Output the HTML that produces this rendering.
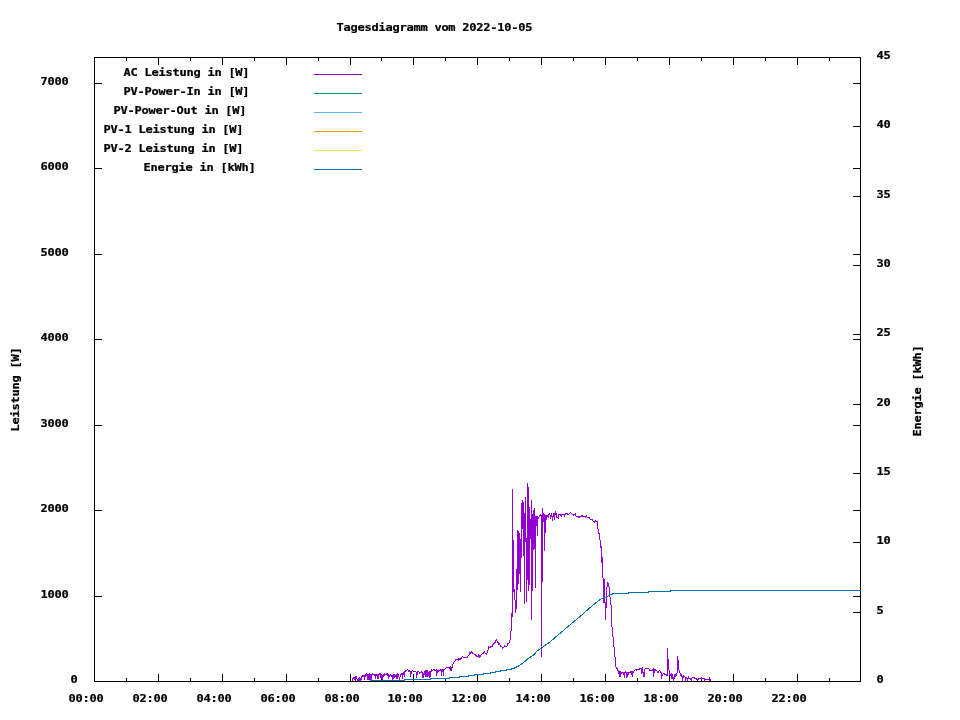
<!DOCTYPE html>
<html lang="de"><head><meta charset="utf-8"><title>Tagesdiagramm vom 2022-10-05</title>
<style>html,body{margin:0;padding:0;background:#fff;width:960px;height:720px;overflow:hidden}svg{display:block}text{font-family:'DejaVu Sans Mono','Liberation Mono',monospace;font-weight:bold;font-size:12px;letter-spacing:-0.2246px;stroke:#000;stroke-width:0.25px;fill:#000;white-space:pre}</style></head><body>
<svg width="960" height="720" viewBox="0 0 960 720">
<rect width="960" height="720" fill="#fff"/>
<g fill="#000" shape-rendering="crispEdges">
<rect x="94" y="57" width="767" height="1"/>
<rect x="94" y="681" width="767" height="1"/>
<rect x="94" y="57" width="1" height="625"/>
<rect x="860" y="57" width="1" height="625"/>
<rect x="94" y="674" width="1" height="8"/>
<rect x="94" y="57" width="1" height="8"/>
<rect x="126" y="678" width="1" height="4"/>
<rect x="126" y="57" width="1" height="4"/>
<rect x="158" y="674" width="1" height="8"/>
<rect x="158" y="57" width="1" height="8"/>
<rect x="190" y="678" width="1" height="4"/>
<rect x="190" y="57" width="1" height="4"/>
<rect x="222" y="674" width="1" height="8"/>
<rect x="222" y="57" width="1" height="8"/>
<rect x="254" y="678" width="1" height="4"/>
<rect x="254" y="57" width="1" height="4"/>
<rect x="286" y="674" width="1" height="8"/>
<rect x="286" y="57" width="1" height="8"/>
<rect x="318" y="678" width="1" height="4"/>
<rect x="318" y="57" width="1" height="4"/>
<rect x="350" y="674" width="1" height="8"/>
<rect x="350" y="57" width="1" height="8"/>
<rect x="381" y="678" width="1" height="4"/>
<rect x="381" y="57" width="1" height="4"/>
<rect x="413" y="674" width="1" height="8"/>
<rect x="413" y="57" width="1" height="8"/>
<rect x="445" y="678" width="1" height="4"/>
<rect x="445" y="57" width="1" height="4"/>
<rect x="477" y="674" width="1" height="8"/>
<rect x="477" y="57" width="1" height="8"/>
<rect x="509" y="678" width="1" height="4"/>
<rect x="509" y="57" width="1" height="4"/>
<rect x="541" y="674" width="1" height="8"/>
<rect x="541" y="57" width="1" height="8"/>
<rect x="573" y="678" width="1" height="4"/>
<rect x="573" y="57" width="1" height="4"/>
<rect x="605" y="674" width="1" height="8"/>
<rect x="605" y="57" width="1" height="8"/>
<rect x="637" y="678" width="1" height="4"/>
<rect x="637" y="57" width="1" height="4"/>
<rect x="669" y="674" width="1" height="8"/>
<rect x="669" y="57" width="1" height="8"/>
<rect x="701" y="678" width="1" height="4"/>
<rect x="701" y="57" width="1" height="4"/>
<rect x="733" y="674" width="1" height="8"/>
<rect x="733" y="57" width="1" height="8"/>
<rect x="765" y="678" width="1" height="4"/>
<rect x="765" y="57" width="1" height="4"/>
<rect x="797" y="674" width="1" height="8"/>
<rect x="797" y="57" width="1" height="8"/>
<rect x="829" y="678" width="1" height="4"/>
<rect x="829" y="57" width="1" height="4"/>
<rect x="94" y="681" width="8" height="1"/>
<rect x="853" y="681" width="8" height="1"/>
<rect x="94" y="596" width="8" height="1"/>
<rect x="853" y="596" width="8" height="1"/>
<rect x="94" y="510" width="8" height="1"/>
<rect x="853" y="510" width="8" height="1"/>
<rect x="94" y="425" width="8" height="1"/>
<rect x="853" y="425" width="8" height="1"/>
<rect x="94" y="339" width="8" height="1"/>
<rect x="853" y="339" width="8" height="1"/>
<rect x="94" y="254" width="8" height="1"/>
<rect x="853" y="254" width="8" height="1"/>
<rect x="94" y="168" width="8" height="1"/>
<rect x="853" y="168" width="8" height="1"/>
<rect x="94" y="83" width="8" height="1"/>
<rect x="853" y="83" width="8" height="1"/>
<rect x="853" y="681" width="8" height="1"/>
<rect x="853" y="612" width="8" height="1"/>
<rect x="853" y="542" width="8" height="1"/>
<rect x="853" y="473" width="8" height="1"/>
<rect x="853" y="404" width="8" height="1"/>
<rect x="853" y="334" width="8" height="1"/>
<rect x="853" y="265" width="8" height="1"/>
<rect x="853" y="196" width="8" height="1"/>
<rect x="853" y="126" width="8" height="1"/>
<rect x="853" y="57" width="8" height="1"/>
</g>
<g>
<text transform="translate(336.5,31) scale(1,0.917)">Tagesdiagramm vom 2022-10-05</text>
<text transform="translate(70.5,683) scale(1,0.917)">0</text>
<text transform="translate(40.5,598) scale(1,0.917)">1000</text>
<text transform="translate(40.5,512) scale(1,0.917)">2000</text>
<text transform="translate(40.5,427) scale(1,0.917)">3000</text>
<text transform="translate(40.5,341) scale(1,0.917)">4000</text>
<text transform="translate(40.5,256) scale(1,0.917)">5000</text>
<text transform="translate(40.5,170) scale(1,0.917)">6000</text>
<text transform="translate(40.5,85) scale(1,0.917)">7000</text>
<text transform="translate(876.5,683) scale(1,0.917)">0</text>
<text transform="translate(876.5,614) scale(1,0.917)">5</text>
<text transform="translate(876.5,544) scale(1,0.917)">10</text>
<text transform="translate(876.5,475) scale(1,0.917)">15</text>
<text transform="translate(876.5,406) scale(1,0.917)">20</text>
<text transform="translate(876.5,336) scale(1,0.917)">25</text>
<text transform="translate(876.5,267) scale(1,0.917)">30</text>
<text transform="translate(876.5,198) scale(1,0.917)">35</text>
<text transform="translate(876.5,128) scale(1,0.917)">40</text>
<text transform="translate(876.5,59) scale(1,0.917)">45</text>
<text transform="translate(68.5,702) scale(1,0.917)">00:00</text>
<text transform="translate(132.5,702) scale(1,0.917)">02:00</text>
<text transform="translate(196.5,702) scale(1,0.917)">04:00</text>
<text transform="translate(260.5,702) scale(1,0.917)">06:00</text>
<text transform="translate(324.5,702) scale(1,0.917)">08:00</text>
<text transform="translate(387.5,702) scale(1,0.917)">10:00</text>
<text transform="translate(451.5,702) scale(1,0.917)">12:00</text>
<text transform="translate(515.5,702) scale(1,0.917)">14:00</text>
<text transform="translate(579.5,702) scale(1,0.917)">16:00</text>
<text transform="translate(643.5,702) scale(1,0.917)">18:00</text>
<text transform="translate(707.5,702) scale(1,0.917)">20:00</text>
<text transform="translate(771.5,702) scale(1,0.917)">22:00</text>
<text transform="translate(123.5,76) scale(1,0.917)">AC Leistung in [W]</text>
<text transform="translate(123.5,95) scale(1,0.917)">PV-Power-In in [W]</text>
<text transform="translate(113.5,114) scale(1,0.917)">PV-Power-Out in [W]</text>
<text transform="translate(103.5,133) scale(1,0.917)">PV-1 Leistung in [W]</text>
<text transform="translate(103.5,152) scale(1,0.917)">PV-2 Leistung in [W]</text>
<text transform="translate(143.5,171) scale(1,0.917)">Energie in [kWh]</text>
<text transform="translate(19,431.5) rotate(-90) scale(1,0.917)">Leistung [W]</text>
<text transform="translate(921,436.5) rotate(-90) scale(1,0.917)">Energie [kWh]</text>
</g>
<g shape-rendering="crispEdges">
<rect x="314" y="74" width="48" height="1" fill="#9400d3"/>
<rect x="314" y="93" width="48" height="1" fill="#009e73"/>
<rect x="314" y="112" width="48" height="1" fill="#56b4e9"/>
<rect x="314" y="131" width="48" height="1" fill="#e69f00"/>
<rect x="314" y="150" width="48" height="1" fill="#f0e442"/>
<rect x="314" y="169" width="48" height="1" fill="#0072b2"/>
</g>
<g fill="#9400d3" shape-rendering="crispEdges">
<rect x="352" y="678" width="1" height="3"/>
<rect x="353" y="677" width="1" height="2"/>
<rect x="354" y="677" width="1" height="3"/>
<rect x="355" y="676" width="1" height="5"/>
<rect x="356" y="676" width="1" height="3"/>
<rect x="357" y="679" width="1" height="2"/>
<rect x="358" y="678" width="1" height="3"/>
<rect x="359" y="677" width="1" height="4"/>
<rect x="360" y="678" width="1" height="3"/>
<rect x="361" y="676" width="1" height="4"/>
<rect x="362" y="675" width="1" height="2"/>
<rect x="363" y="675" width="1" height="2"/>
<rect x="364" y="675" width="1" height="5"/>
<rect x="365" y="674" width="1" height="3"/>
<rect x="366" y="673" width="1" height="3"/>
<rect x="367" y="674" width="1" height="6"/>
<rect x="368" y="674" width="1" height="6"/>
<rect x="369" y="673" width="1" height="7"/>
<rect x="370" y="674" width="1" height="6"/>
<rect x="371" y="674" width="1" height="6"/>
<rect x="372" y="673" width="1" height="2"/>
<rect x="373" y="674" width="1" height="1"/>
<rect x="374" y="674" width="1" height="2"/>
<rect x="375" y="674" width="1" height="5"/>
<rect x="376" y="674" width="1" height="2"/>
<rect x="377" y="674" width="1" height="5"/>
<rect x="378" y="674" width="1" height="5"/>
<rect x="379" y="673" width="1" height="2"/>
<rect x="380" y="673" width="1" height="5"/>
<rect x="381" y="674" width="1" height="5"/>
<rect x="382" y="675" width="1" height="5"/>
<rect x="383" y="674" width="1" height="3"/>
<rect x="384" y="673" width="1" height="3"/>
<rect x="385" y="674" width="1" height="1"/>
<rect x="386" y="673" width="1" height="2"/>
<rect x="387" y="673" width="1" height="3"/>
<rect x="388" y="674" width="1" height="5"/>
<rect x="389" y="675" width="1" height="2"/>
<rect x="390" y="674" width="1" height="2"/>
<rect x="391" y="675" width="1" height="2"/>
<rect x="392" y="675" width="1" height="5"/>
<rect x="393" y="674" width="1" height="5"/>
<rect x="394" y="674" width="1" height="4"/>
<rect x="395" y="675" width="1" height="2"/>
<rect x="396" y="674" width="1" height="5"/>
<rect x="397" y="673" width="1" height="6"/>
<rect x="398" y="674" width="1" height="3"/>
<rect x="399" y="677" width="1" height="3"/>
<rect x="400" y="674" width="1" height="3"/>
<rect x="401" y="673" width="1" height="2"/>
<rect x="402" y="673" width="1" height="6"/>
<rect x="403" y="672" width="1" height="3"/>
<rect x="404" y="671" width="1" height="6"/>
<rect x="405" y="670" width="1" height="2"/>
<rect x="406" y="670" width="1" height="1"/>
<rect x="407" y="669" width="1" height="1"/>
<rect x="408" y="670" width="1" height="2"/>
<rect x="409" y="670" width="1" height="2"/>
<rect x="410" y="671" width="1" height="6"/>
<rect x="411" y="671" width="1" height="3"/>
<rect x="412" y="670" width="1" height="1"/>
<rect x="413" y="671" width="1" height="1"/>
<rect x="414" y="671" width="1" height="1"/>
<rect x="415" y="671" width="1" height="1"/>
<rect x="416" y="672" width="1" height="6"/>
<rect x="417" y="671" width="1" height="4"/>
<rect x="418" y="671" width="1" height="1"/>
<rect x="419" y="672" width="1" height="2"/>
<rect x="420" y="672" width="1" height="1"/>
<rect x="421" y="671" width="1" height="2"/>
<rect x="422" y="672" width="1" height="6"/>
<rect x="423" y="673" width="1" height="5"/>
<rect x="424" y="671" width="1" height="4"/>
<rect x="425" y="670" width="1" height="7"/>
<rect x="426" y="670" width="1" height="7"/>
<rect x="427" y="670" width="1" height="7"/>
<rect x="428" y="672" width="1" height="4"/>
<rect x="429" y="671" width="1" height="7"/>
<rect x="430" y="671" width="1" height="6"/>
<rect x="431" y="669" width="1" height="3"/>
<rect x="432" y="670" width="1" height="1"/>
<rect x="433" y="669" width="1" height="1"/>
<rect x="434" y="669" width="1" height="2"/>
<rect x="435" y="670" width="1" height="1"/>
<rect x="436" y="669" width="1" height="7"/>
<rect x="437" y="670" width="1" height="3"/>
<rect x="438" y="670" width="1" height="2"/>
<rect x="439" y="670" width="1" height="1"/>
<rect x="440" y="669" width="1" height="2"/>
<rect x="441" y="669" width="1" height="7"/>
<rect x="442" y="669" width="1" height="3"/>
<rect x="443" y="669" width="1" height="7"/>
<rect x="444" y="669" width="1" height="1"/>
<rect x="445" y="668" width="1" height="1"/>
<rect x="446" y="667" width="1" height="1"/>
<rect x="447" y="667" width="1" height="1"/>
<rect x="448" y="667" width="1" height="1"/>
<rect x="449" y="667" width="1" height="2"/>
<rect x="450" y="666" width="1" height="5"/>
<rect x="451" y="667" width="1" height="4"/>
<rect x="452" y="664" width="1" height="4"/>
<rect x="453" y="662" width="1" height="2"/>
<rect x="454" y="661" width="1" height="1"/>
<rect x="455" y="659" width="1" height="2"/>
<rect x="456" y="659" width="1" height="1"/>
<rect x="457" y="659" width="1" height="1"/>
<rect x="458" y="658" width="1" height="3"/>
<rect x="459" y="658" width="1" height="2"/>
<rect x="460" y="658" width="1" height="2"/>
<rect x="461" y="657" width="1" height="2"/>
<rect x="462" y="656" width="1" height="1"/>
<rect x="463" y="657" width="1" height="1"/>
<rect x="464" y="657" width="1" height="1"/>
<rect x="465" y="657" width="1" height="1"/>
<rect x="466" y="657" width="1" height="1"/>
<rect x="467" y="656" width="1" height="2"/>
<rect x="468" y="655" width="1" height="1"/>
<rect x="469" y="652" width="1" height="3"/>
<rect x="470" y="652" width="1" height="2"/>
<rect x="471" y="651" width="1" height="2"/>
<rect x="472" y="652" width="1" height="2"/>
<rect x="473" y="653" width="1" height="1"/>
<rect x="474" y="654" width="1" height="1"/>
<rect x="475" y="654" width="1" height="2"/>
<rect x="476" y="655" width="1" height="2"/>
<rect x="477" y="656" width="1" height="1"/>
<rect x="478" y="654" width="1" height="3"/>
<rect x="479" y="655" width="1" height="3"/>
<rect x="480" y="655" width="1" height="2"/>
<rect x="481" y="654" width="1" height="1"/>
<rect x="482" y="653" width="1" height="1"/>
<rect x="483" y="652" width="1" height="2"/>
<rect x="484" y="651" width="1" height="2"/>
<rect x="485" y="653" width="1" height="1"/>
<rect x="486" y="653" width="1" height="2"/>
<rect x="487" y="650" width="1" height="3"/>
<rect x="488" y="646" width="1" height="4"/>
<rect x="489" y="647" width="1" height="1"/>
<rect x="490" y="646" width="1" height="2"/>
<rect x="491" y="646" width="1" height="1"/>
<rect x="492" y="644" width="1" height="3"/>
<rect x="493" y="643" width="1" height="2"/>
<rect x="494" y="642" width="1" height="2"/>
<rect x="495" y="640" width="1" height="3"/>
<rect x="496" y="639" width="1" height="2"/>
<rect x="497" y="641" width="1" height="2"/>
<rect x="498" y="642" width="1" height="3"/>
<rect x="499" y="643" width="1" height="2"/>
<rect x="500" y="645" width="1" height="2"/>
<rect x="501" y="646" width="1" height="1"/>
<rect x="502" y="647" width="1" height="2"/>
<rect x="503" y="647" width="1" height="1"/>
<rect x="504" y="645" width="1" height="2"/>
<rect x="505" y="646" width="1" height="1"/>
<rect x="506" y="646" width="1" height="1"/>
<rect x="507" y="643" width="1" height="3"/>
<rect x="508" y="643" width="1" height="1"/>
<rect x="509" y="640" width="1" height="3"/>
<rect x="510" y="631" width="1" height="9"/>
<rect x="511" y="613" width="1" height="18"/>
<rect x="512" y="489" width="1" height="128"/>
<rect x="513" y="540" width="1" height="52"/>
<rect x="514" y="589" width="1" height="11"/>
<rect x="515" y="600" width="1" height="13"/>
<rect x="516" y="569" width="1" height="40"/>
<rect x="517" y="530" width="1" height="60"/>
<rect x="518" y="531" width="1" height="53"/>
<rect x="519" y="533" width="1" height="41"/>
<rect x="520" y="539" width="1" height="53"/>
<rect x="521" y="503" width="1" height="55"/>
<rect x="522" y="500" width="1" height="29"/>
<rect x="523" y="502" width="1" height="54"/>
<rect x="524" y="513" width="1" height="91"/>
<rect x="525" y="497" width="1" height="45"/>
<rect x="526" y="538" width="1" height="64"/>
<rect x="527" y="483" width="1" height="97"/>
<rect x="528" y="487" width="1" height="104"/>
<rect x="529" y="507" width="1" height="78"/>
<rect x="530" y="519" width="1" height="20"/>
<rect x="531" y="500" width="1" height="120"/>
<rect x="532" y="514" width="1" height="77"/>
<rect x="533" y="510" width="1" height="40"/>
<rect x="534" y="508" width="1" height="41"/>
<rect x="535" y="516" width="1" height="72"/>
<rect x="536" y="516" width="1" height="10"/>
<rect x="537" y="516" width="1" height="20"/>
<rect x="538" y="517" width="1" height="2"/>
<rect x="539" y="515" width="1" height="2"/>
<rect x="540" y="514" width="1" height="2"/>
<rect x="541" y="515" width="1" height="142"/>
<rect x="542" y="508" width="1" height="74"/>
<rect x="543" y="513" width="1" height="9"/>
<rect x="544" y="514" width="1" height="37"/>
<rect x="545" y="515" width="1" height="18"/>
<rect x="546" y="515" width="1" height="5"/>
<rect x="547" y="515" width="1" height="2"/>
<rect x="548" y="514" width="1" height="4"/>
<rect x="549" y="513" width="1" height="2"/>
<rect x="550" y="515" width="1" height="4"/>
<rect x="551" y="513" width="1" height="4"/>
<rect x="552" y="516" width="1" height="5"/>
<rect x="553" y="513" width="1" height="4"/>
<rect x="554" y="513" width="1" height="7"/>
<rect x="555" y="511" width="1" height="4"/>
<rect x="556" y="513" width="1" height="5"/>
<rect x="557" y="517" width="1" height="1"/>
<rect x="558" y="514" width="1" height="5"/>
<rect x="559" y="514" width="1" height="1"/>
<rect x="560" y="514" width="1" height="2"/>
<rect x="561" y="514" width="1" height="3"/>
<rect x="562" y="514" width="1" height="1"/>
<rect x="563" y="514" width="1" height="1"/>
<rect x="564" y="514" width="1" height="3"/>
<rect x="565" y="513" width="1" height="2"/>
<rect x="566" y="513" width="1" height="1"/>
<rect x="567" y="513" width="1" height="2"/>
<rect x="568" y="514" width="1" height="1"/>
<rect x="569" y="513" width="1" height="1"/>
<rect x="570" y="512" width="1" height="1"/>
<rect x="571" y="513" width="1" height="1"/>
<rect x="572" y="514" width="1" height="1"/>
<rect x="573" y="514" width="1" height="2"/>
<rect x="574" y="514" width="1" height="1"/>
<rect x="575" y="513" width="1" height="3"/>
<rect x="576" y="516" width="1" height="1"/>
<rect x="577" y="516" width="1" height="1"/>
<rect x="578" y="516" width="1" height="2"/>
<rect x="579" y="516" width="1" height="2"/>
<rect x="580" y="516" width="1" height="1"/>
<rect x="581" y="515" width="1" height="2"/>
<rect x="582" y="515" width="1" height="2"/>
<rect x="583" y="516" width="1" height="1"/>
<rect x="584" y="516" width="1" height="1"/>
<rect x="585" y="516" width="1" height="2"/>
<rect x="586" y="515" width="1" height="2"/>
<rect x="587" y="517" width="1" height="1"/>
<rect x="588" y="517" width="1" height="1"/>
<rect x="589" y="517" width="1" height="2"/>
<rect x="590" y="519" width="1" height="1"/>
<rect x="591" y="519" width="1" height="1"/>
<rect x="592" y="519" width="1" height="2"/>
<rect x="593" y="521" width="1" height="1"/>
<rect x="594" y="521" width="1" height="2"/>
<rect x="595" y="520" width="1" height="2"/>
<rect x="596" y="521" width="1" height="1"/>
<rect x="597" y="521" width="1" height="8"/>
<rect x="598" y="529" width="1" height="5"/>
<rect x="599" y="533" width="1" height="7"/>
<rect x="600" y="540" width="1" height="8"/>
<rect x="601" y="546" width="1" height="17"/>
<rect x="602" y="557" width="1" height="21"/>
<rect x="603" y="578" width="1" height="25"/>
<rect x="604" y="579" width="1" height="24"/>
<rect x="605" y="602" width="1" height="18"/>
<rect x="606" y="587" width="1" height="21"/>
<rect x="607" y="582" width="1" height="5"/>
<rect x="608" y="583" width="1" height="4"/>
<rect x="609" y="587" width="1" height="10"/>
<rect x="610" y="597" width="1" height="8"/>
<rect x="611" y="605" width="1" height="22"/>
<rect x="612" y="627" width="1" height="10"/>
<rect x="613" y="637" width="1" height="10"/>
<rect x="614" y="647" width="1" height="10"/>
<rect x="615" y="657" width="1" height="10"/>
<rect x="616" y="667" width="1" height="2"/>
<rect x="617" y="668" width="1" height="3"/>
<rect x="618" y="670" width="1" height="4"/>
<rect x="619" y="671" width="1" height="6"/>
<rect x="620" y="671" width="1" height="6"/>
<rect x="621" y="672" width="1" height="2"/>
<rect x="622" y="672" width="1" height="1"/>
<rect x="623" y="672" width="1" height="3"/>
<rect x="624" y="672" width="1" height="6"/>
<rect x="625" y="671" width="1" height="2"/>
<rect x="626" y="672" width="1" height="6"/>
<rect x="627" y="672" width="1" height="5"/>
<rect x="628" y="672" width="1" height="3"/>
<rect x="629" y="672" width="1" height="1"/>
<rect x="630" y="671" width="1" height="2"/>
<rect x="631" y="671" width="1" height="4"/>
<rect x="632" y="671" width="1" height="6"/>
<rect x="633" y="671" width="1" height="2"/>
<rect x="634" y="670" width="1" height="1"/>
<rect x="635" y="669" width="1" height="1"/>
<rect x="636" y="669" width="1" height="2"/>
<rect x="637" y="669" width="1" height="1"/>
<rect x="638" y="669" width="1" height="1"/>
<rect x="639" y="668" width="1" height="2"/>
<rect x="640" y="668" width="1" height="1"/>
<rect x="641" y="668" width="1" height="6"/>
<rect x="642" y="667" width="1" height="6"/>
<rect x="643" y="672" width="1" height="5"/>
<rect x="644" y="669" width="1" height="8"/>
<rect x="645" y="668" width="1" height="1"/>
<rect x="646" y="668" width="1" height="1"/>
<rect x="647" y="668" width="1" height="1"/>
<rect x="648" y="668" width="1" height="1"/>
<rect x="649" y="669" width="1" height="2"/>
<rect x="650" y="670" width="1" height="1"/>
<rect x="651" y="670" width="1" height="1"/>
<rect x="652" y="669" width="1" height="2"/>
<rect x="653" y="668" width="1" height="9"/>
<rect x="654" y="669" width="1" height="4"/>
<rect x="655" y="669" width="1" height="2"/>
<rect x="656" y="670" width="1" height="1"/>
<rect x="657" y="671" width="1" height="2"/>
<rect x="658" y="671" width="1" height="2"/>
<rect x="659" y="670" width="1" height="1"/>
<rect x="660" y="671" width="1" height="2"/>
<rect x="661" y="672" width="1" height="7"/>
<rect x="662" y="674" width="1" height="2"/>
<rect x="663" y="673" width="1" height="1"/>
<rect x="664" y="673" width="1" height="2"/>
<rect x="665" y="674" width="1" height="1"/>
<rect x="666" y="674" width="1" height="2"/>
<rect x="667" y="648" width="1" height="28"/>
<rect x="668" y="659" width="1" height="11"/>
<rect x="669" y="670" width="1" height="5"/>
<rect x="670" y="674" width="1" height="2"/>
<rect x="671" y="673" width="1" height="6"/>
<rect x="672" y="674" width="1" height="5"/>
<rect x="673" y="677" width="1" height="4"/>
<rect x="674" y="674" width="1" height="5"/>
<rect x="675" y="674" width="1" height="3"/>
<rect x="676" y="673" width="1" height="3"/>
<rect x="677" y="656" width="1" height="17"/>
<rect x="678" y="660" width="1" height="10"/>
<rect x="679" y="670" width="1" height="3"/>
<rect x="680" y="673" width="1" height="3"/>
<rect x="681" y="674" width="1" height="3"/>
<rect x="682" y="676" width="1" height="5"/>
<rect x="683" y="675" width="1" height="3"/>
<rect x="684" y="676" width="1" height="1"/>
<rect x="685" y="677" width="1" height="4"/>
<rect x="686" y="677" width="1" height="2"/>
<rect x="687" y="678" width="1" height="3"/>
<rect x="688" y="676" width="1" height="3"/>
<rect x="689" y="678" width="1" height="1"/>
<rect x="690" y="678" width="1" height="2"/>
<rect x="691" y="678" width="1" height="3"/>
<rect x="692" y="677" width="1" height="1"/>
<rect x="693" y="677" width="1" height="1"/>
<rect x="694" y="677" width="1" height="2"/>
<rect x="695" y="678" width="1" height="1"/>
<rect x="696" y="678" width="1" height="2"/>
<rect x="697" y="679" width="1" height="2"/>
<rect x="698" y="678" width="1" height="2"/>
<rect x="699" y="678" width="1" height="1"/>
<rect x="700" y="678" width="1" height="1"/>
<rect x="701" y="677" width="1" height="3"/>
<rect x="702" y="678" width="1" height="1"/>
<rect x="703" y="678" width="1" height="1"/>
<rect x="704" y="678" width="1" height="3"/>
<rect x="705" y="679" width="1" height="1"/>
<rect x="706" y="679" width="1" height="1"/>
<rect x="707" y="679" width="1" height="1"/>
<rect x="708" y="679" width="1" height="1"/>
<rect x="709" y="677" width="1" height="4"/>
<rect x="710" y="679" width="1" height="2"/>
</g>
<polyline points="370,680.5 404,680.5 404,679.5 430,679.5 430,678.5 449,678.5 449,677.5 459,677.5 459,676.5 468,676.5 468,675.5 474,675.5 474,674.5 483,674.5 483,673.5 490,673.5 490,672.5 495,672.5 495,671.5 500,671.5 500,670.5 506,670.5 506,669.5 511,669.5 511,668.5 514,668.5 514,667.5 516,667.5 516,666.5 518,666.5 518.5,665.9 519.5,665.3 521.5,664 523.5,662.5 525.5,661 526.5,659.8 528.5,658.4 531.5,656.4 534.5,654.2 535.5,652.9 537.5,650.6 541.5,648.2 545.5,644.9 549,642.7 551.5,640.7 556,636.7 562.5,631.2 567.5,626.9 572.5,622.7 575.5,620.2 581,615.7 585,612 587.5,609.9 590,607.7 592.5,605.5 595,603.5 597.5,601.5 600,599.75 602.5,598.3 605,597.4 607.5,596.2 610,594.7 612,594.4 613,593.5 613,593.5 628,593.5 628,592.5 648,592.5 648,591.5 670,591.5 670,590.5 861,590.5" fill="none" stroke="#0072b2" stroke-width="1" stroke-linejoin="round" shape-rendering="crispEdges"/>
</svg></body></html>
